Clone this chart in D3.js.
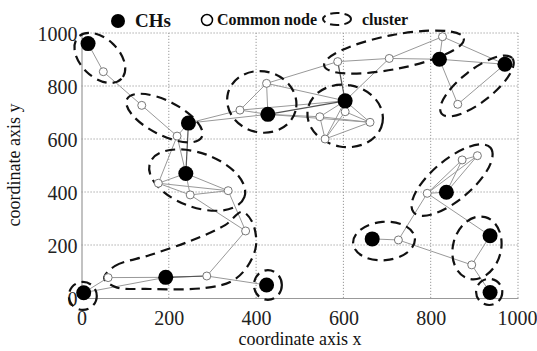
<!DOCTYPE html>
<html>
<head>
<meta charset="utf-8">
<script src="https://cdn.jsdelivr.net/npm/d3@7"></script>
<style>
  body { margin: 0; background: #fff; }
  text { font-family: "Liberation Serif", "Times New Roman", serif; fill: #111; }
</style>
</head>
<body>
<div id="chart"></div>
<script>
// cluster heads
const heads = [
  ['H1', 15, 960], ['H2', 245, 660], ['H3', 427, 693], ['H4', 604, 744],
  ['H5', 820, 901], ['H6', 970, 882], ['H7', 239, 470], ['H8', 193, 78],
  ['H9', 5, 20], ['H10', 424, 49], ['H11', 666, 223], ['H12', 836, 399],
  ['H13', 936, 235], ['H14', 936, 21]
];

// common nodes
const commons = [
  ['a', 50, 854], ['b', 138, 727], ['c', 219, 611], ['d', 363, 709],
  ['e', 424, 810], ['f', 587, 892], ['g', 705, 904], ['h', 827, 986],
  ['i', 862, 731], ['j', 546, 684], ['k', 604, 703], ['l', 661, 663],
  ['m', 558, 600], ['n', 176, 433], ['o', 249, 389], ['p', 336, 405],
  ['q', 376, 253], ['r', 61, 77], ['s', 287, 83], ['t', 726, 219],
  ['u', 792, 395], ['v', 872, 521], ['w', 907, 537], ['x', 894, 125]
];

const links = [
  ['H1', 'a'], ['a', 'b'], ['b', 'c'], ['c', 'H2'], ['H2', 'd'], ['H2', 'H3'],
  ['d', 'H3'], ['d', 'H4'], ['d', 'e'], ['e', 'H3'], ['e', 'f'], ['e', 'H4'],
  ['f', 'g'], ['g', 'h'], ['g', 'H5'], ['g', 'H4'], ['h', 'H5'], ['h', 'H6'],
  ['H5', 'H6'], ['H5', 'i'], ['i', 'H6'], ['H3', 'j'], ['H3', 'l'],
  ['H4', 'j'], ['H4', 'k'], ['H4', 'l'], ['H4', 'm'], ['j', 'm'], ['j', 'l'],
  ['k', 'm'], ['k', 'l'], ['m', 'l'], ['c', 'H7'], ['c', 'n'], ['H7', 'n'],
  ['H7', 'o'], ['H7', 'p'], ['n', 'o'], ['n', 'p'], ['o', 'p'], ['o', 'q'],
  ['p', 'q'], ['q', 's'], ['s', 'H8'], ['H8', 'r'], ['r', 'H9'], ['H9', 'H8'],
  ['s', 'H10'], ['H11', 't'], ['t', 'u'], ['u', 'H12'], ['u', 'v'], ['u', 'w'],
  ['H12', 'v'], ['H12', 'w'], ['v', 'w'], ['u', 'H13'], ['t', 'x'],
  ['x', 'H13'], ['x', 'H14']
];

// darker links
const strongLinks = [['H2', 'H7'], ['f', 'H4'], ['H3', 'H4'], ['H8', 's']];

// clusters: centre x, centre y, radius, radius, rotation
const clusters = [
  [42, 906, 69, 44, 44], [190, 679, 96, 39, 27], [413, 740, 80, 70, 15],
  [716, 928, 163, 39, -11], [604, 687, 87, 71, 10], [906, 800, 103, 37, -38],
  [265, 445, 115, 62, 20], [3, 8, 32, 32, 0], [427, 49, 32, 34, 0],
  [693, 215, 71, 44, -5], [849, 445, 115, 46, -40], [906, 189, 55, 73, 15],
  [934, 23, 30, 30, 0]
];

// the long bottom-left cluster outline
const sCluster = [
  [52, 75], [77, 121], [157, 162], [249, 215], [329, 275], [368, 325],
  [391, 287], [400, 200], [381, 121], [345, 64], [283, 38], [157, 34], [77, 42]
];

const ticks = [0, 200, 400, 600, 800, 1000];

const width = 537, height = 351;
const svg = d3.select('#chart').append('svg')
  .attr('width', width).attr('height', height);

const x = d3.scaleLinear().domain([0, 1000]).range([81.5, 518]);
const y = d3.scaleLinear().domain([0, 1000]).range([298, 33]);
const rpx = v => x(v) - x(0);

// grid
const grid = svg.append('g');
ticks.slice(1).forEach(t => {
  grid.append('line').attr('x1', x(t)).attr('x2', x(t)).attr('y1', y(0)).attr('y2', y(1000))
    .attr('stroke', '#999').attr('stroke-dasharray', '1.2,1.8');
  grid.append('line').attr('y1', y(t)).attr('y2', y(t)).attr('x1', x(0)).attr('x2', x(1000))
    .attr('stroke', '#999').attr('stroke-dasharray', '1.2,1.8');
});

// axes
const xAxis = svg.append('g').attr('transform', `translate(0,${y(0)})`)
  .call(d3.axisBottom(x).tickValues(ticks).tickFormat(d3.format('d')).tickSize(0).tickPadding(8));
const yAxis = svg.append('g').attr('transform', `translate(${x(0)},0)`)
  .call(d3.axisLeft(y).tickValues(ticks).tickFormat(d3.format('d')).tickSize(0).tickPadding(4));
[xAxis, yAxis].forEach(a => {
  a.select('.domain').attr('stroke', '#999').attr('stroke-width', 1.2);
  a.selectAll('text')
    .style('font-family', '"Liberation Serif", "Times New Roman", serif')
    .style('font-size', '20px').style('fill', '#222');
});
xAxis.selectAll('text').attr('dy', '0.95em');
yAxis.selectAll('text').attr('dy', '0.36em');
// last x label sits against the right edge
xAxis.selectAll('.tick').filter(d => d === 1000).select('text')
  .attr('text-anchor', 'end').attr('x', 19);

svg.append('text').attr('x', 300).attr('y', 345).attr('text-anchor', 'middle')
  .attr('font-size', 18).text('coordinate axis x');
svg.append('text').attr('transform', 'translate(20,165) rotate(-90)')
  .attr('text-anchor', 'middle').attr('font-size', 18).text('coordinate axis y');

// links
const pos = {};
heads.concat(commons).forEach(d => { pos[d[0]] = d; });
svg.append('g').selectAll('line').data(links).join('line')
  .attr('x1', d => x(pos[d[0]][1])).attr('y1', d => y(pos[d[0]][2]))
  .attr('x2', d => x(pos[d[1]][1])).attr('y2', d => y(pos[d[1]][2]))
  .attr('stroke', '#999').attr('stroke-width', 1);
svg.append('g').selectAll('line').data(strongLinks).join('line')
  .attr('x1', d => x(pos[d[0]][1])).attr('y1', d => y(pos[d[0]][2]))
  .attr('x2', d => x(pos[d[1]][1])).attr('y2', d => y(pos[d[1]][2]))
  .attr('stroke', '#555').attr('stroke-width', 1.2);

// clusters
const dash = '10,6';
svg.append('g').selectAll('ellipse').data(clusters).join('ellipse')
  .attr('transform', d => `translate(${x(d[0])},${y(d[1])}) rotate(${d[4]})`)
  .attr('rx', d => rpx(d[2])).attr('ry', d => rpx(d[3]))
  .attr('fill', 'none').attr('stroke', '#111').attr('stroke-width', 2.2)
  .attr('stroke-dasharray', dash);
svg.append('path').datum(sCluster)
  .attr('d', d3.line().x(d => x(d[0])).y(d => y(d[1])).curve(d3.curveCatmullRomClosed))
  .attr('fill', 'none').attr('stroke', '#111').attr('stroke-width', 2.2)
  .attr('stroke-dasharray', dash);

// nodes
svg.append('g').selectAll('circle').data(commons).join('circle')
  .attr('cx', d => x(d[1])).attr('cy', d => y(d[2])).attr('r', 4)
  .attr('fill', '#fff').attr('stroke', '#777').attr('stroke-width', 1);
svg.append('g').selectAll('circle').data(heads).join('circle')
  .attr('cx', d => x(d[1])).attr('cy', d => y(d[2])).attr('r', 7.5)
  .attr('fill', '#000');

// legend
const lg = svg.append('g');
lg.append('circle').attr('cx', 118).attr('cy', 21).attr('r', 7).attr('fill', '#000');
lg.append('text').attr('x', 135).attr('y', 27).attr('font-size', 19)
  .attr('font-weight', 'bold').text('CHs');
lg.append('circle').attr('cx', 207).attr('cy', 20).attr('r', 5.5)
  .attr('fill', '#fff').attr('stroke', '#000').attr('stroke-width', 1.5);
lg.append('text').attr('x', 217).attr('y', 25).attr('font-size', 16)
  .attr('font-weight', 'bold').text('Common node');
lg.append('ellipse').attr('cx', 337).attr('cy', 19).attr('rx', 14).attr('ry', 6)
  .attr('fill', 'none').attr('stroke', '#111').attr('stroke-width', 2)
  .attr('stroke-dasharray', '9,5');
lg.append('text').attr('x', 362).attr('y', 25).attr('font-size', 16)
  .attr('font-weight', 'bold').text('cluster');
</script>
</body>
</html>
